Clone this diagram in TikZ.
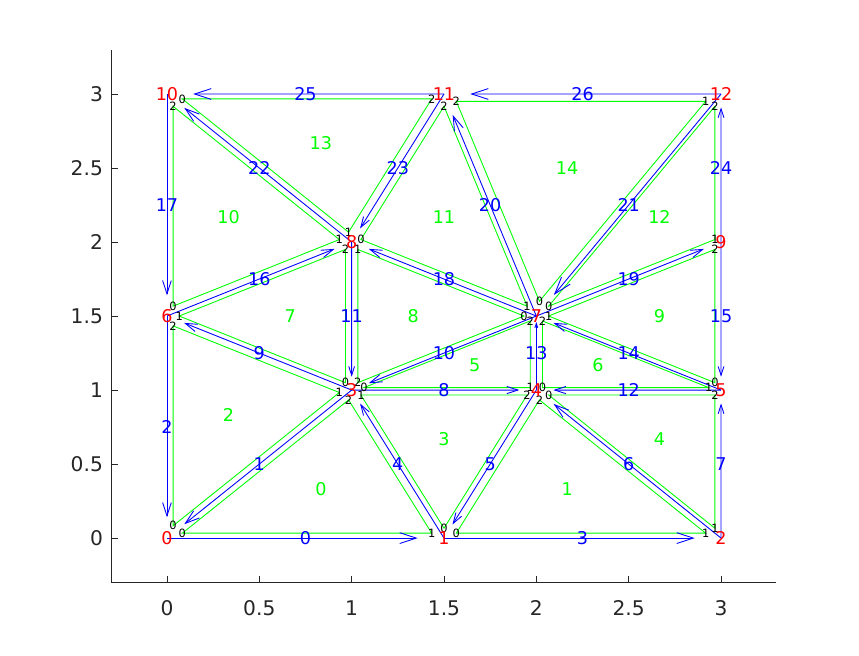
\documentclass[tikz,border=0pt]{standalone}
\usepackage{fontspec}
\setmainfont{DejaVu Sans}
\usetikzlibrary{calc}
\definecolor{axisgray}{rgb}{0.15,0.15,0.15}
\tikzset{
  axisline/.style={axisgray, line width=0.5pt},
  meshedge/.style={blue, line width=0.5pt},
  trisides/.style={green, line width=0.5pt},
  vertlabel/.style={red, font=\fontsize{10}{12}\selectfont, inner sep=0pt},
  edgelabel/.style={blue, font=\fontsize{10}{12}\selectfont, inner sep=0pt},
  trilabel/.style={green, font=\fontsize{10}{12}\selectfont, inner sep=0pt},
  locallabel/.style={black, font=\fontsize{6.5}{8}\selectfont, inner sep=0pt},
  ticklabel/.style={axisgray, font=\fontsize{11.5}{13}\selectfont, inner sep=0pt}
}
\begin{document}
\begin{tikzpicture}[x=3.693cm, y=2.96cm]
    \useasboundingbox (-0.904,-0.7905) rectangle (3.747,3.635);

    \draw[axisline] (-0.3,3.3) -- (-0.3,-0.3) -- (3.3,-0.3);
    \foreach \t [count=\k] in {0,0.5,1,1.5,2,2.5,3} {
        \draw[axisline] (\t,-0.3) -- ++(0,0.045);
        \draw[axisline] (-0.3,\t) -- ++(0.036,0);
        \node[ticklabel] (xtick\k) at (\t,-0.473) {\t};
        \node[ticklabel, anchor=east] (ytick\k) at (-0.345,\t) {\t};
    }

    \coordinate (v0) at (0,0);
    \coordinate (v1) at (1.5,0);
    \coordinate (v2) at (3,0);
    \coordinate (v3) at (1,1);
    \coordinate (v4) at (2,1);
    \coordinate (v5) at (3,1);
    \coordinate (v6) at (0,1.5);
    \coordinate (v7) at (2,1.5);
    \coordinate (v8) at (1,2);
    \coordinate (v9) at (3,2);
    \coordinate (v10) at (0,3);
    \coordinate (v11) at (1.5,3);
    \coordinate (v12) at (3,3);

    \foreach \i/\a/\b/\c in {0/0/1/3, 1/1/2/4, 2/0/3/6, 3/1/3/4, 4/4/2/5,
        5/3/4/7, 6/4/5/7, 7/3/6/8, 8/7/8/3, 9/5/7/9, 10/6/8/10,
        11/8/7/11, 12/7/9/12, 13/10/8/11, 14/7/12/11} {
        \coordinate (c\i) at ($0.3333*(v\a)+0.3333*(v\b)+0.3334*(v\c)$);
        \draw[trisides] ($(c\i)!0.9!(v\a)$) coordinate (s\i-0)
            -- ($(c\i)!0.9!(v\b)$) coordinate (s\i-1)
            -- ($(c\i)!0.9!(v\c)$) coordinate (s\i-2) -- cycle;
    }

    \foreach \n/\a/\b in {0/0/1, 1/3/0, 2/6/0, 3/1/2, 4/1/3, 5/4/1, 6/2/4,
        7/2/5, 8/3/4, 9/3/6, 10/7/3, 11/8/3, 12/5/4, 13/4/7, 14/5/7,
        15/9/5, 16/6/8, 17/10/6, 18/7/8, 19/7/9, 20/7/11, 21/12/7,
        22/8/10, 23/11/8, 24/9/12, 25/11/10, 26/12/11} {
        \coordinate (tip\n) at ($(v\a)!0.9!(v\b)$);
        \draw[meshedge] (v\a) -- (tip\n);
        \draw[meshedge] ($(tip\n)!0.07!18:(v\a)$) -- (tip\n) -- ($(tip\n)!0.07!-18:(v\a)$);
        \node[edgelabel] (e\n) at ($(v\a)!0.5!(v\b)$) {\n};
    }

    \foreach \i in {0,...,14} {
        \node[trilabel] (tri\i) at (c\i) {\i};
        \node[locallabel] (loc\i-0) at (s\i-0) {0};
        \node[locallabel] (loc\i-1) at (s\i-1) {1};
        \node[locallabel] (loc\i-2) at (s\i-2) {2};
    }

    \foreach \i in {0,...,12} {
        \node[vertlabel] (vl\i) at (v\i) {\i};
    }
\end{tikzpicture}
\end{document}
